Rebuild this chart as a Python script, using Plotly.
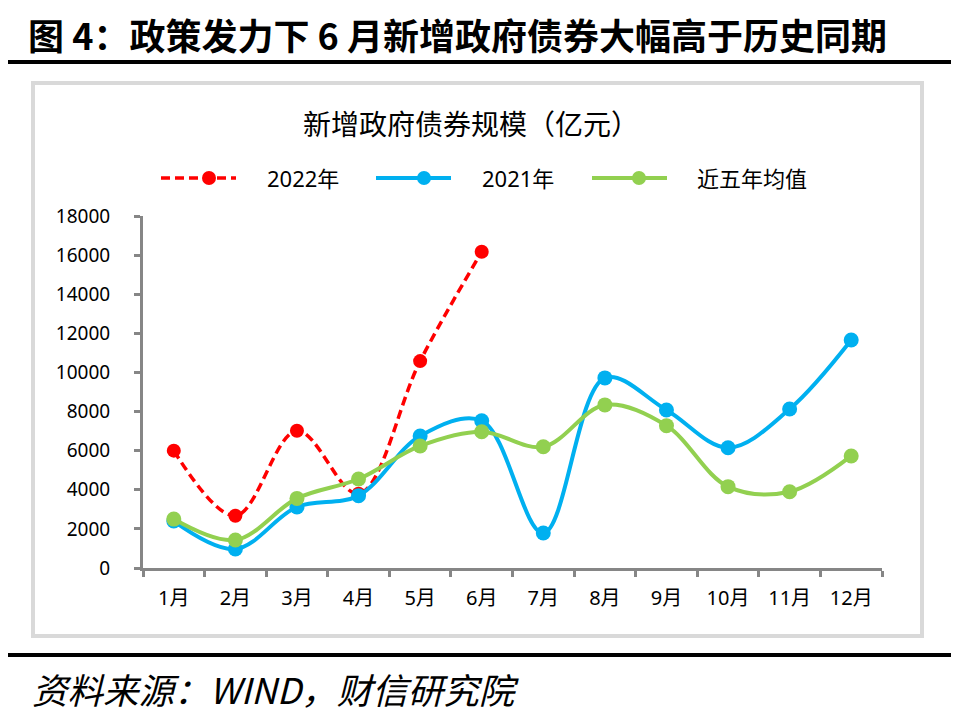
import plotly.graph_objects as go

months = ["1月", "2月", "3月", "4月", "5月", "6月", "7月", "8月", "9月", "10月", "11月", "12月"]
y2022 = [6000, 2670, 7020, 3800, 10580, 16170]
y2021 = [2400, 970, 3120, 3700, 6750, 7530, 1790, 9720, 8080, 6150, 8130, 11660]
avg5 = [2500, 1430, 3560, 4550, 6240, 6970, 6200, 8340, 7280, 4160, 3900, 5730]

series_names = ["2022年", "2021年", "近五年均值"]
colors = ["#FF0000", "#00B0F0", "#92D050"]

OFF = 8  # page body margin
W_PX, H_PX = 973 - OFF, 717 - OFF
L, R, T, B = 143, 882, 216, 568
PW, PH = R - L, B - T


def fx(x):
    return (x - L) / PW


def fy(y):
    return (B - y) / PH


FONT = "Noto Sans, Noto Sans CJK SC, sans-serif"
CJK = "Noto Sans CJK SC, sans-serif"

fig = go.Figure()
fig.add_trace(go.Scatter(
    x=months[:len(y2022)], y=y2022, mode="lines+markers", name=series_names[0],
    line=dict(color=colors[0], width=3.5, dash="9px,5px", shape="spline", smoothing=1),
    marker=dict(color=colors[0], size=14), showlegend=False))
fig.add_trace(go.Scatter(
    x=months, y=y2021, mode="lines+markers", name=series_names[1],
    line=dict(color=colors[1], width=4, shape="spline", smoothing=1),
    marker=dict(color=colors[1], size=15), showlegend=False))
fig.add_trace(go.Scatter(
    x=months, y=avg5, mode="lines+markers", name=series_names[2],
    line=dict(color=colors[2], width=4, shape="spline", smoothing=1),
    marker=dict(color=colors[2], size=15), showlegend=False))

shapes = []
annotations = []

# frame lines
shapes.append(dict(type="line", xref="paper", yref="paper", x0=fx(5), x1=fx(951), y0=fy(62), y1=fy(62),
                   line=dict(color="black", width=4)))
shapes.append(dict(type="line", xref="paper", yref="paper", x0=fx(5), x1=fx(951), y0=fy(655), y1=fy(655),
                   line=dict(color="black", width=4)))
shapes.append(dict(type="rect", xref="paper", yref="paper", x0=fx(33), x1=fx(922), y0=fy(636), y1=fy(83),
                   line=dict(color="#D9D9D9", width=4), fillcolor="rgba(0,0,0,0)", layer="below"))

# legend
leg = [(161, 236, 209, 265), (376, 451, 424, 480), (592, 667, 639, 695)]
ly = 178
for i, (x0, x1, cx, tx) in enumerate(leg):
    shapes.append(dict(type="line", xref="paper", yref="paper", x0=fx(x0), x1=fx(x1), y0=fy(ly), y1=fy(ly),
                       line=dict(color=colors[i], width=3.5 if i == 0 else 4,
                                 dash="9px,5px" if i == 0 else "solid")))
    r = 7
    shapes.append(dict(type="circle", xref="paper", yref="paper", x0=fx(cx - r), x1=fx(cx + r),
                       y0=fy(ly + r), y1=fy(ly - r), fillcolor=colors[i], line=dict(width=0)))
    annotations.append(dict(text=series_names[i], xref="paper", yref="paper", x=fx(tx), y=fy(ly),
                            xanchor="left", yanchor="middle", showarrow=False,
                            font=dict(family=FONT, size=22, color="black")))

annotations.append(dict(text="<b>图 4：政策发力下 6 月新增政府债券大幅高于历史同期</b>", xref="paper", yref="paper",
                        x=fx(26), y=fy(34), xanchor="left", yanchor="middle", showarrow=False,
                        font=dict(family=CJK, size=36, color="black")))
annotations.append(dict(text="新增政府债券规模（亿元）", xref="paper", yref="paper",
                        x=fx(471), y=fy(123), xanchor="center", yanchor="middle", showarrow=False,
                        font=dict(family=CJK, size=28, color="black")))
annotations.append(dict(text="<i>资料来源：WIND，财信研究院</i>", xref="paper", yref="paper",
                        x=fx(30), y=fy(688), xanchor="left", yanchor="middle", showarrow=False,
                        font=dict(family=CJK, size=35.5, color="black")))

fig.update_layout(
    width=W_PX, height=H_PX,
    margin=dict(l=L - OFF, r=973 - R, t=T - OFF, b=717 - B, pad=0),
    paper_bgcolor="white", plot_bgcolor="white",
    shapes=shapes, annotations=annotations,
    showlegend=False,
)
fig.update_xaxes(
    type="category", categoryorder="array", categoryarray=months, range=[-0.5, 11.5],
    showline=True, linecolor="#868686", linewidth=3, showgrid=False, zeroline=False,
    ticks="outside", tickson="boundaries", ticklen=6, tickwidth=3, tickcolor="#868686",
    tickfont=dict(family=FONT, size=20, color="black"), ticklabelstandoff=10,
)
fig.update_yaxes(
    range=[0, 18000], dtick=2000, tick0=0, tickformat="d",
    showline=True, linecolor="#868686", linewidth=3, showgrid=False, zeroline=False,
    ticks="outside", ticklen=6, tickwidth=3, tickcolor="#868686",
    tickfont=dict(family=FONT, size=19, color="black"), ticklabelstandoff=20,
)

fig.write_html("out.html")
